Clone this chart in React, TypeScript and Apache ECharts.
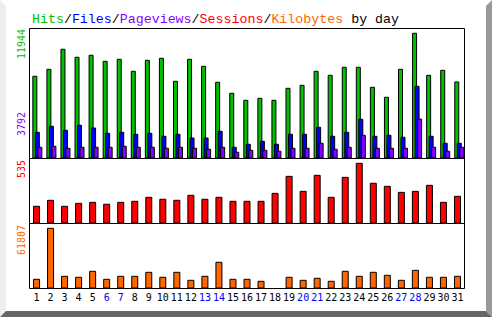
import React, { useEffect, useRef } from "react";
import * as echarts from "echarts";

const days = ["1","2","3","4","5","6","7","8","9","10","11","12","13","14","15","16","17","18","19","20","21","22","23","24","25","26","27","28","29","30","31"];
const weekendDays = ["6","7","13","14","20","21","27","28"];

const hits = [7858,8523,10424,9664,9854,9283,9473,8333,9378,9568,7383,9473,8808,7288,6243,5578,5768,5578,6718,7003,8333,7953,8713,8713,6813,5863,8523,11944,7953,8428,7317];
const files = [2537,3107,2727,3202,2946,2442,2537,2347,2442,2157,2347,1995,1995,2632,1112,1397,1682,1397,2347,2347,3012,2157,2537,3772,2157,2252,2062,6908,2157,1492,1492];
const pageviews = [1112,1207,1017,1112,1112,1112,1207,1112,1112,1017,1112,1017,922,1112,637,827,827,732,1017,1017,1492,922,1112,2252,1017,1017,1017,3792,1112,732,1112];
const sessions = [156,209,156,182,191,174,191,200,235,218,209,253,218,235,200,200,200,270,420,288,429,235,411,535,359,332,279,288,341,191,244];
const kilobytes = [9875,61807,12930,11911,18019,9875,12930,12930,17001,11911,17001,8857,12930,27182,9875,9875,7839,0,11911,8857,10893,7839,18019,12930,17001,13947,8857,19037,11911,11911,12930];

const topMax = 12350;
const sessionsMax = 573;
const kbMax = 66190;

const GREEN = "#00c000";
const BLUE = "#0000ff";
const PURPLE = "#8800ff";
const RED = "#ff0000";
const ORANGE = "#ff6600";

export default function App() {
  const ref = useRef<HTMLDivElement>(null);
  useEffect(() => {
    document.body.style.margin = "0";
    const chart = echarts.init(ref.current!, null, { renderer: "svg" });
    const mono = "DejaVu Sans Mono";
    const maxHits = Math.max(...hits);
    const maxPages = Math.max(...pageviews);
    const maxSessions = Math.max(...sessions);
    const maxKb = Math.max(...kilobytes);
    const barStyle = (c: string) => ({ color: c, borderColor: "#000", borderWidth: 1 });
    const yLabel = (text: string, y: number, fill: string) => ({
      type: "text",
      x: 21.5,
      y,
      rotation: Math.PI / 2,
      style: {
        text,
        fill,
        font: `10px "${mono}"`,
        align: "right",
        textAlign: "right",
        verticalAlign: "middle",
        textVerticalAlign: "middle",
      },
    });
    const hiddenCat = (gridIndex: number) => ({
      type: "category",
      gridIndex,
      data: days,
      axisLine: { show: false },
      axisTick: { show: false },
      axisLabel: { show: false },
    });
    const hiddenVal = (gridIndex: number, max: number) => ({
      type: "value",
      gridIndex,
      min: 0,
      max,
      show: false,
      splitLine: { show: false },
    });
    chart.setOption({
      animation: false,
      backgroundColor: "#ffffff",
      title: {
        left: 27,
        top: 8,
        text:
          "{g|Hits}{k|/}{b|Files}{k|/}{p|Pageviews}{k|/}{r|Sessions}{k|/}{o|Kilobytes}{k| by day}",
        textStyle: {
          fontFamily: "Liberation Mono",
          fontSize: 13.3,
          fontWeight: "normal",
          rich: {
            g: { color: GREEN, fontFamily: "Liberation Mono", fontSize: 13.3 },
            b: { color: BLUE, fontFamily: "Liberation Mono", fontSize: 13.3 },
            p: { color: PURPLE, fontFamily: "Liberation Mono", fontSize: 13.3 },
            r: { color: RED, fontFamily: "Liberation Mono", fontSize: 13.3 },
            o: { color: ORANGE, fontFamily: "Liberation Mono", fontSize: 13.3 },
            k: { color: "#000", fontFamily: "Liberation Mono", fontSize: 13.3 },
          },
        },
      },
      grid: [
        { left: 30.3, top: 28.5, width: 436, height: 130, show: false },
        { left: 29.5, top: 158.5, width: 435, height: 65, show: true, borderColor: "#000", borderWidth: 1, backgroundColor: "transparent" },
        { left: 29.5, top: 223.5, width: 435, height: 65, show: true, borderColor: "#000", borderWidth: 1, backgroundColor: "transparent" },
        { left: 29.5, top: 28.5, width: 435, height: 130, show: true, borderColor: "#000", borderWidth: 1, backgroundColor: "transparent" },
      ],
      xAxis: [
        hiddenCat(0),
        hiddenCat(1),
        {
          type: "category",
          gridIndex: 2,
          data: days,
          axisLine: { show: false },
          axisTick: { show: false },
          axisLabel: {
            show: true,
            interval: 0,
            margin: 4,
            fontSize: 10,
            fontFamily: mono,
            color: (v: string) => (weekendDays.includes(v) ? BLUE : "#000"),
          },
        },
        hiddenCat(3),
      ],
      yAxis: [
        hiddenVal(0, topMax),
        hiddenVal(1, sessionsMax),
        hiddenVal(2, kbMax),
        hiddenVal(3, topMax),
      ],
      series: [
        { name: "Hits", type: "bar", xAxisIndex: 0, yAxisIndex: 0, data: hits, barWidth: 5, barGap: "-50%", itemStyle: barStyle(GREEN) },
        { name: "Files", type: "bar", xAxisIndex: 0, yAxisIndex: 0, data: files, barWidth: 5, barGap: "-50%", itemStyle: barStyle(BLUE) },
        { name: "Pageviews", type: "bar", xAxisIndex: 0, yAxisIndex: 0, data: pageviews, barWidth: 5, barGap: "-50%", itemStyle: barStyle(PURPLE) },
        { name: "Sessions", type: "bar", xAxisIndex: 1, yAxisIndex: 1, data: sessions, barWidth: 7, itemStyle: barStyle(RED) },
        { name: "Kilobytes", type: "bar", xAxisIndex: 2, yAxisIndex: 2, data: kilobytes, barWidth: 7, itemStyle: barStyle(ORANGE) },
      ],
      graphic: [
        { type: "polygon", shape: { points: [[0, 0], [6, 6], [6, 311], [0, 317]] }, style: { fill: "#eeeeee" }, silent: true },
        { type: "polygon", shape: { points: [[492, 0], [486, 6], [486, 311], [492, 317]] }, style: { fill: "#999999" }, silent: true },
        { type: "polygon", shape: { points: [[0, 317], [6, 311], [486, 311], [492, 317]] }, style: { fill: "#666666" }, silent: true },
        yLabel(String(maxHits), 29, GREEN),
        yLabel(String(maxPages), 112, PURPLE),
        yLabel(String(maxSessions), 160, RED),
        yLabel(String(maxKb), 225, ORANGE),
      ],
    });
    return () => chart.dispose();
  }, []);
  return <div ref={ref} style={{ width: 492, height: 317 }} />;
}
